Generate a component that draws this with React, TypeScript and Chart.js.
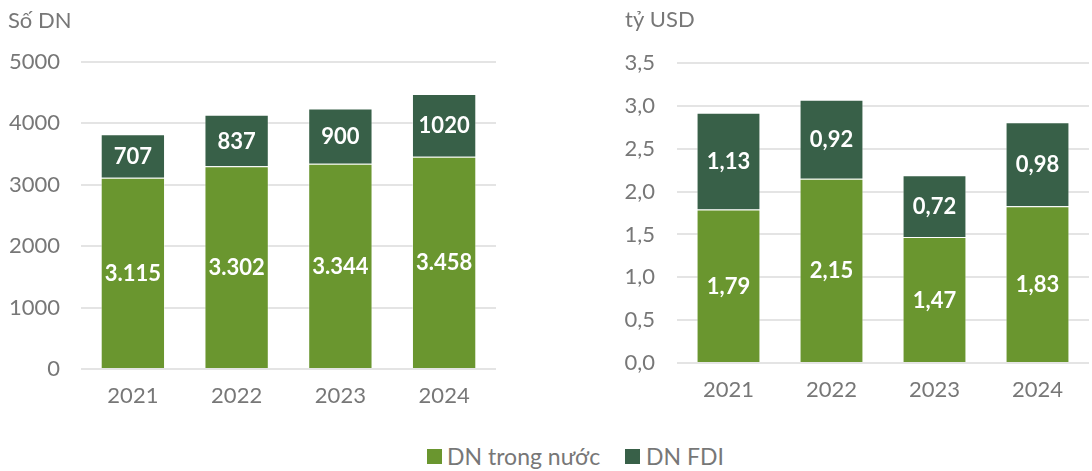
import React, { useEffect, useRef } from "react";
import { Chart, registerables } from "chart.js";

Chart.register(...registerables);

// ---- data ----
const years = ["2021", "2022", "2023", "2024"];
const seriesNames = ["DN trong nước", "DN FDI"];
const countDomestic = [3115, 3302, 3344, 3458];
const countFDI = [707, 837, 900, 1020];
const valueDomestic = [1.79, 2.15, 1.47, 1.83];
const valueFDI = [1.13, 0.92, 0.72, 0.98];
const leftAxisTitle = "Số DN";
const rightAxisTitle = "tỷ USD";
const leftTicks = { min: 0, max: 5000, step: 1000 };
const rightTicks = { min: 0, max: 3.5, step: 0.5 };

// ---- style ----
const FONT = "Lato, 'Open Sans', sans-serif";
const LIGHT = "#6A962F";
const DARK = "#386048";
const TEXT = "#777777";
const GRID = "#e4e4e4";

const thousands = (v: number) => String(v).replace(/\B(?=(\d{3})+(?!\d))/g, ".");
const comma = (v: number, d: number) => v.toFixed(d).replace(".", ",");

function makeSegLabels(format: (v: number, di: number) => string) {
  return {
    id: "segLabels",
    afterDatasetsDraw(chart: any) {
      const ctx = chart.ctx;
      ctx.save();
      ctx.font = `bold 22px ${FONT}`;
      ctx.fillStyle = "#ffffff";
      ctx.textAlign = "center";
      ctx.textBaseline = "middle";
      chart.data.datasets.forEach((ds: any, di: number) => {
        const meta = chart.getDatasetMeta(di);
        meta.data.forEach((el: any, i: number) => {
          const p = el.getProps(["x", "y", "base"], true);
          ctx.fillText(format(ds.data[i], di), p.x, (p.y + p.base) / 2 + 1);
        });
      });
      ctx.restore();
    },
  };
}

function makeAxisTitle(text: string, x: number, y: number) {
  return {
    id: "axisTitle",
    afterDraw(chart: any) {
      const ctx = chart.ctx;
      ctx.save();
      ctx.font = `22px ${FONT}`;
      ctx.fillStyle = TEXT;
      ctx.textAlign = "left";
      ctx.textBaseline = "middle";
      ctx.fillText(text, x, y);
      ctx.restore();
    },
  };
}

function buildConfig(
  domestic: number[],
  fdi: number[],
  ticks: { min: number; max: number; step: number },
  tickFmt: (v: number) => string,
  yWidth: number,
  tickPad: number,
  padRight: number,
  padTop: number,
  plugins: any[]
): any {
  return {
    type: "bar",
    data: {
      labels: years,
      datasets: [
        {
          label: seriesNames[0],
          data: domestic,
          backgroundColor: LIGHT,
          borderColor: "rgba(255,255,255,0.45)",
          borderWidth: 1,
          barPercentage: 0.62,
          categoryPercentage: 1,
        },
        {
          label: seriesNames[1],
          data: fdi,
          backgroundColor: DARK,
          borderColor: "rgba(255,255,255,0.45)",
          borderWidth: 1,
          barPercentage: 0.62,
          categoryPercentage: 1,
        },
      ],
    },
    options: {
      responsive: false,
      animation: false,
      devicePixelRatio: 1,
      layout: { padding: { left: 0, right: padRight, top: padTop, bottom: 0 } },
      plugins: { legend: { display: false }, tooltip: { enabled: false } },
      scales: {
        x: {
          stacked: true,
          grid: { display: false, drawTicks: false },
          border: { display: false },
          ticks: { color: TEXT, font: { family: FONT, size: 22 }, padding: 14 },
          afterFit: (s: any) => {
            s.height = 51;
          },
        },
        y: {
          stacked: true,
          min: ticks.min,
          max: ticks.max,
          grid: { color: GRID, lineWidth: 2, drawTicks: false },
          border: { display: false },
          ticks: {
            stepSize: ticks.step,
            color: TEXT,
            font: { family: FONT, size: 22 },
            padding: tickPad,
            callback: (v: any) => tickFmt(Number(v)),
          },
          afterFit: (s: any) => {
            s.width = yWidth;
          },
        },
      },
    },
    plugins,
  };
}

export default function App() {
  const leftRef = useRef<HTMLCanvasElement>(null);
  const rightRef = useRef<HTMLCanvasElement>(null);

  useEffect(() => {
    const left = new Chart(
      leftRef.current as HTMLCanvasElement,
      buildConfig(
        countDomestic,
        countFDI,
        leftTicks,
        (v) => String(v),
        81,
        21,
        14,
        62,
        [
          makeSegLabels((v, di) => (di === 0 ? thousands(v) : String(v))),
          makeAxisTitle(leftAxisTitle, 8, 21),
        ]
      )
    );
    const right = new Chart(
      rightRef.current as HTMLCanvasElement,
      buildConfig(
        valueDomestic,
        valueFDI,
        rightTicks,
        (v) => comma(v, 1),
        117,
        22,
        3,
        63,
        [makeSegLabels((v) => comma(v, 2)), makeAxisTitle(rightAxisTitle, 65, 20)]
      )
    );
    return () => {
      left.destroy();
      right.destroy();
    };
  }, []);

  const legendText: React.CSSProperties = {
    position: "absolute",
    top: 443,
    fontFamily: FONT,
    fontSize: 23,
    color: TEXT,
    lineHeight: "26px",
    whiteSpace: "nowrap",
  };
  const sq = (color: string, left: number): React.CSSProperties => ({
    position: "absolute",
    left,
    top: 449,
    width: 15,
    height: 15,
    background: color,
  });

  return (
    <div
      style={{
        position: "fixed",
        left: 0,
        top: 0,
        width: 1092,
        height: 471,
        background: "#ffffff",
        overflow: "hidden",
      }}
    >
      <canvas
        ref={leftRef}
        width={510}
        height={420}
        style={{ position: "absolute", left: 0, top: 0, width: 510, height: 420 }}
      />
      <canvas
        ref={rightRef}
        width={532}
        height={414}
        style={{ position: "absolute", left: 560, top: 0, width: 532, height: 414 }}
      />
      <div style={sq(LIGHT, 427)} />
      <div style={{ ...legendText, left: 447 }}>{seriesNames[0]}</div>
      <div style={sq(DARK, 625)} />
      <div style={{ ...legendText, left: 646 }}>{seriesNames[1]}</div>
    </div>
  );
}
